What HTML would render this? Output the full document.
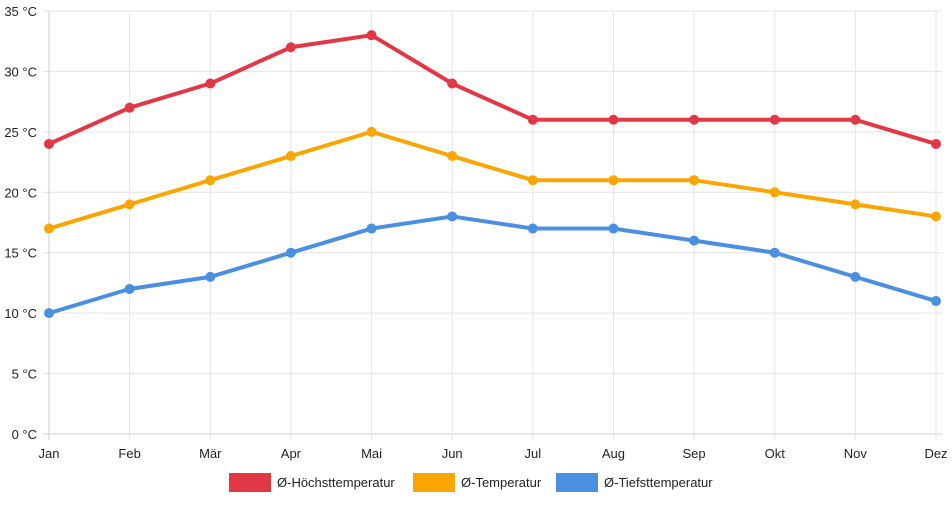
<!DOCTYPE html>
<html><head><meta charset="utf-8"><style>
body{margin:0;background:#fff;font-family:"Liberation Sans",sans-serif}
svg text{font-family:"Liberation Sans",sans-serif;font-size:13px;fill:#222}
</style></head><body>
<svg id="c" width="952" height="500"></svg>
<script>
const months=["Jan","Feb","Mär","Apr","Mai","Jun","Jul","Aug","Sep","Okt","Nov","Dez"];
const highTemps=[24,27,29,32,33,29,26,26,26,26,26,24];
const avgTemps=[17,19,21,23,25,23,21,21,21,20,19,18];
const lowTemps=[10,12,13,15,17,18,17,17,16,15,13,11];
const yTicks=[0,5,10,15,20,25,30,35];
const seriesNames=["Ø-Höchsttemperatur","Ø-Temperatur","Ø-Tiefsttemperatur"];
const NS="http://www.w3.org/2000/svg";
const svg=document.getElementById('c');
const x0=49,x1=936,yTop=11,yBot=434;
const xs=i=>x0+i*(x1-x0)/(months.length-1);
const ys=v=>yBot-v*(yBot-yTop)/35;
function mk(t,a,p){const e=document.createElementNS(NS,t);for(const k in a)e.setAttribute(k,a[k]);(p||svg).appendChild(e);return e;}
yTicks.forEach(v=>{
 const l=mk('line',{x1:x0-6,x2:x1+6,y1:ys(v),y2:ys(v),stroke:v===0?'#ccc':'#e4e4e4','stroke-width':1});
 
 
 const t=mk('text',{x:37,y:ys(v)+5,'text-anchor':'end'});t.textContent=v+' °C';
 
 
});
months.forEach((m,i)=>{
 const l=mk('line',{x1:xs(i),x2:xs(i),y1:yTop,y2:yBot+6,stroke:i===0?'#ccc':'#e4e4e4','stroke-width':1});
 
 
 const t=mk('text',{x:xs(i),y:458,'text-anchor':'middle'});t.textContent=m;
 
 
});
const colors=["#e23744","#f9a602","#4a8fe0"];
[highTemps,avgTemps,lowTemps].forEach((d,s)=>{
 const g=mk('g',{});
 
 
 mk('polyline',{points:d.map((v,i)=>xs(i)+','+ys(v)).join(' '),fill:'none',stroke:colors[s],'stroke-width':4,'stroke-linejoin':'round'},g);
 d.forEach((v,i)=>{const c=mk('circle',{cx:xs(i),cy:ys(v),r:5,fill:colors[s]},g);
  
  });
});
const lx=[229,413,556];
seriesNames.forEach((n,s)=>{
 const g=mk('g',{});
 
 
 mk('rect',{x:lx[s],y:473,width:42,height:19,fill:colors[s]},g);
 const t=mk('text',{x:lx[s]+48,y:487},g);t.textContent=n;
});
</script>
</body></html>
